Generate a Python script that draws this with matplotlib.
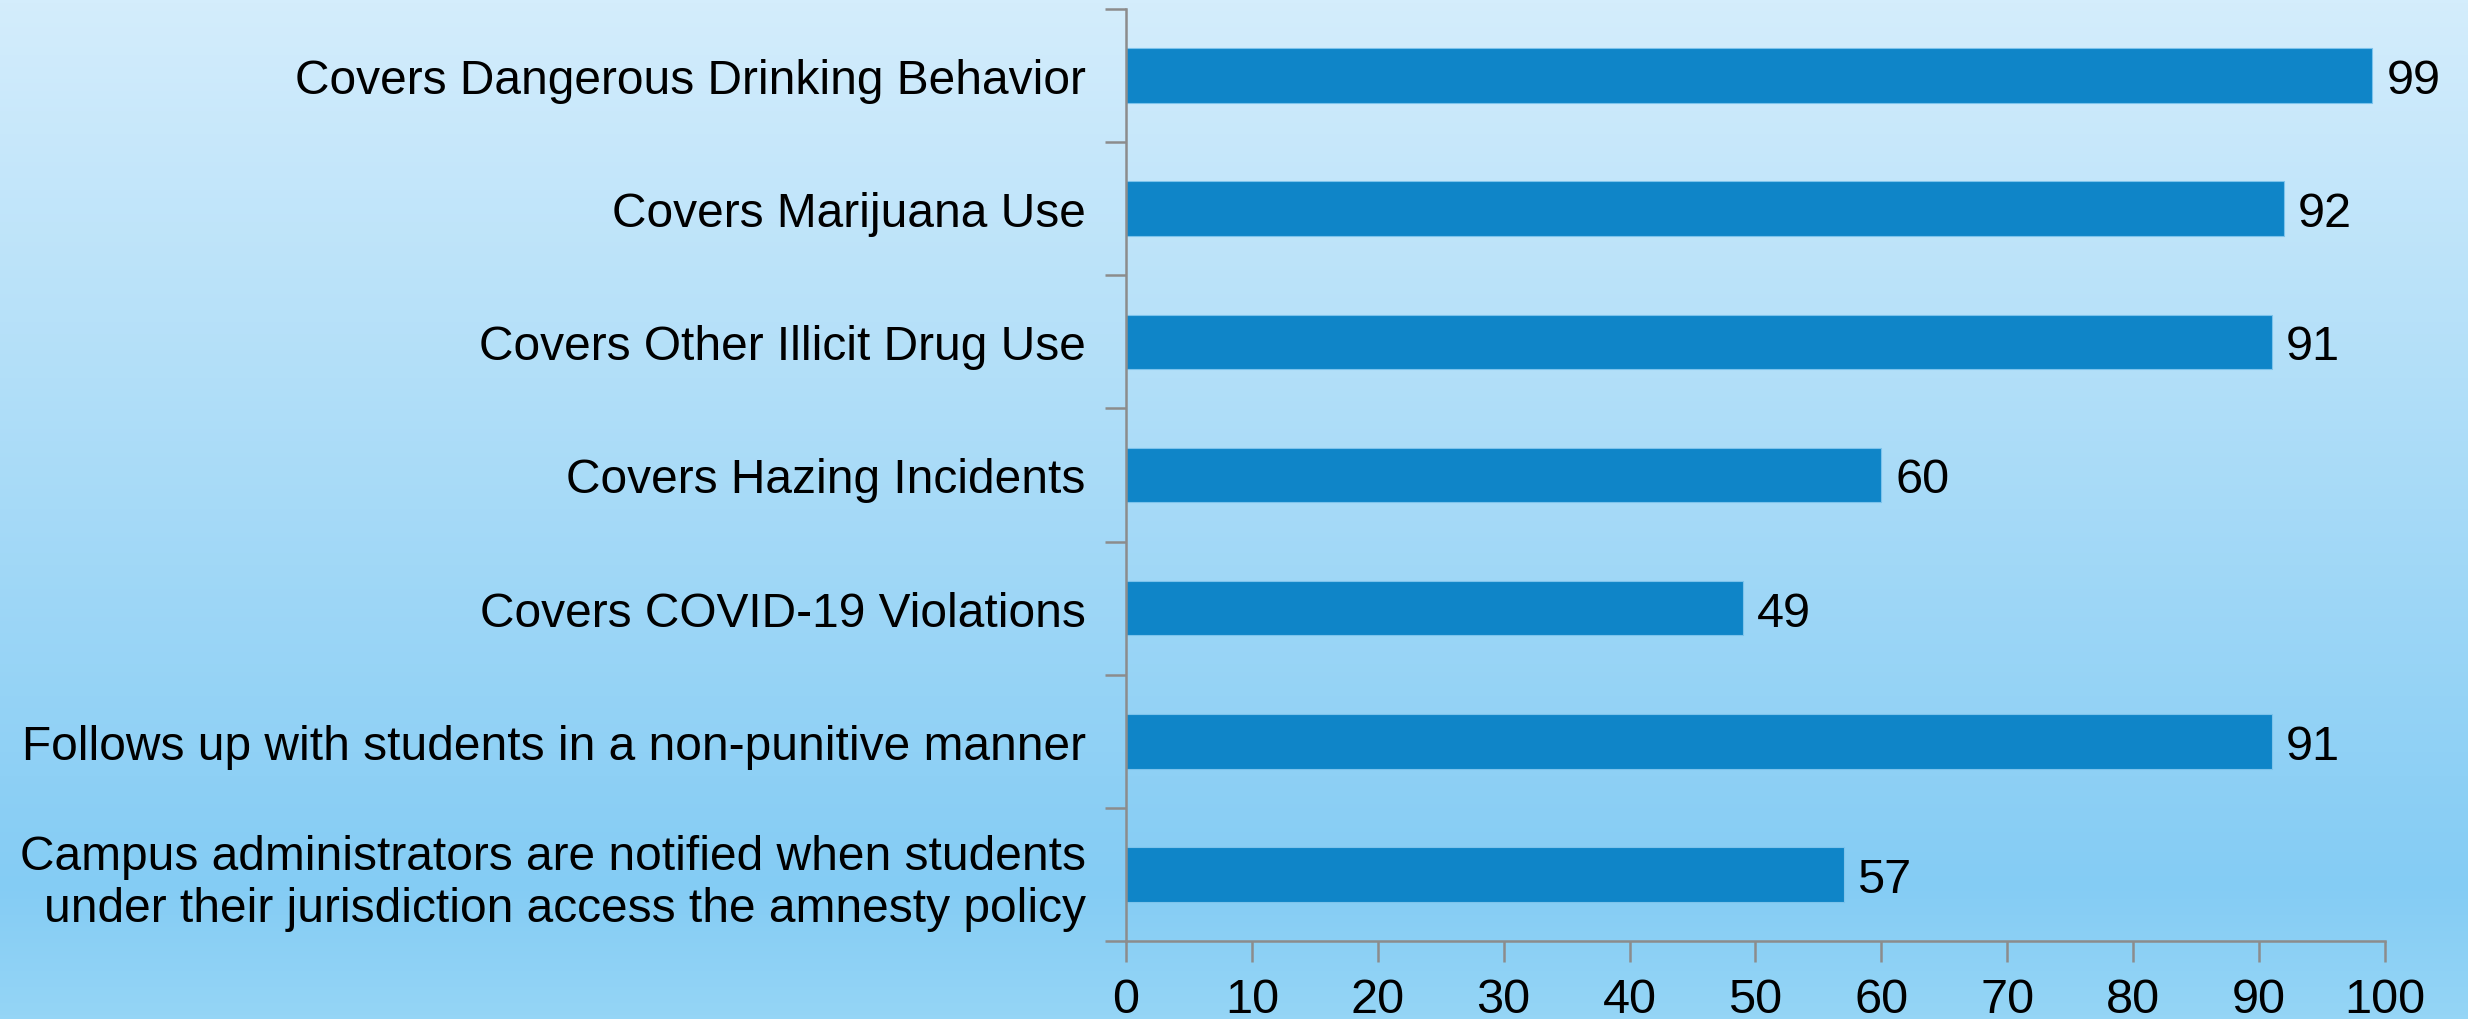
import numpy as np
from matplotlib import pyplot as plt
from matplotlib.colors import LinearSegmentedColormap

categories = [
    "Covers Dangerous Drinking Behavior",
    "Covers Marijuana Use",
    "Covers Other Illicit Drug Use",
    "Covers Hazing Incidents",
    "Covers COVID-19 Violations",
    "Follows up with students in a non-punitive manner",
    "Campus administrators are notified when students\nunder their jurisdiction access the amnesty policy",
]
values = [99, 92, 91, 60, 49, 91, 57]
xticks = [0, 10, 20, 30, 40, 50, 60, 70, 80, 90, 100]

plt.rcParams['font.family'] = ['Liberation Sans', 'DejaVu Sans']

fig = plt.figure(figsize=(24.68, 10.2), dpi=100)

# gradient background
bg = fig.add_axes([0, 0, 1, 1], zorder=-10)
cmap = LinearSegmentedColormap.from_list(
    'bg', [(0.0, '#d4edfc'), (0.87, '#84ccf4'), (1.0, '#95d5f6')])
grad = np.linspace(0, 1, 256).reshape(-1, 1)
bg.imshow(grad, aspect='auto', cmap=cmap, extent=[0, 1, 1, 0])
bg.axis('off')

ax = fig.add_axes([0.4562, 0.0765, 0.9664 - 0.4562, 0.9902 - 0.0765])
ax.patch.set_alpha(0)

y = np.arange(len(categories))
bars = ax.barh(y, values, height=0.41, color='#0f85c8',
               edgecolor='#7cc3ec', linewidth=0.8)
ax.set_ylim(len(categories) - 0.5, -0.5)
ax.set_xlim(0, 100)

for yi, v in zip(y, values):
    ax.text(v + 1.1, yi, str(v), va='center_baseline', ha='left', fontsize=35)

ax.set_yticks(y)
ax.set_yticklabels(categories, fontsize=34.5, linespacing=1.2)
ax.tick_params(axis='y', which='major', length=0, pad=29)
ax.set_yticks(np.arange(-0.5, len(categories)), minor=True)
ax.tick_params(axis='y', which='minor', length=15, width=1.8, color='#8c8c8c')

ax.set_xticks(xticks)
ax.set_xticklabels([str(t) for t in xticks], fontsize=35)
ax.tick_params(axis='x', length=15, width=1.8, color='#8c8c8c', pad=11)

for s in ['top', 'right']:
    ax.spines[s].set_visible(False)
for s in ['left', 'bottom']:
    ax.spines[s].set_color('#8c8c8c')
    ax.spines[s].set_linewidth(1.8)

plt.savefig('out.png', dpi=100)
